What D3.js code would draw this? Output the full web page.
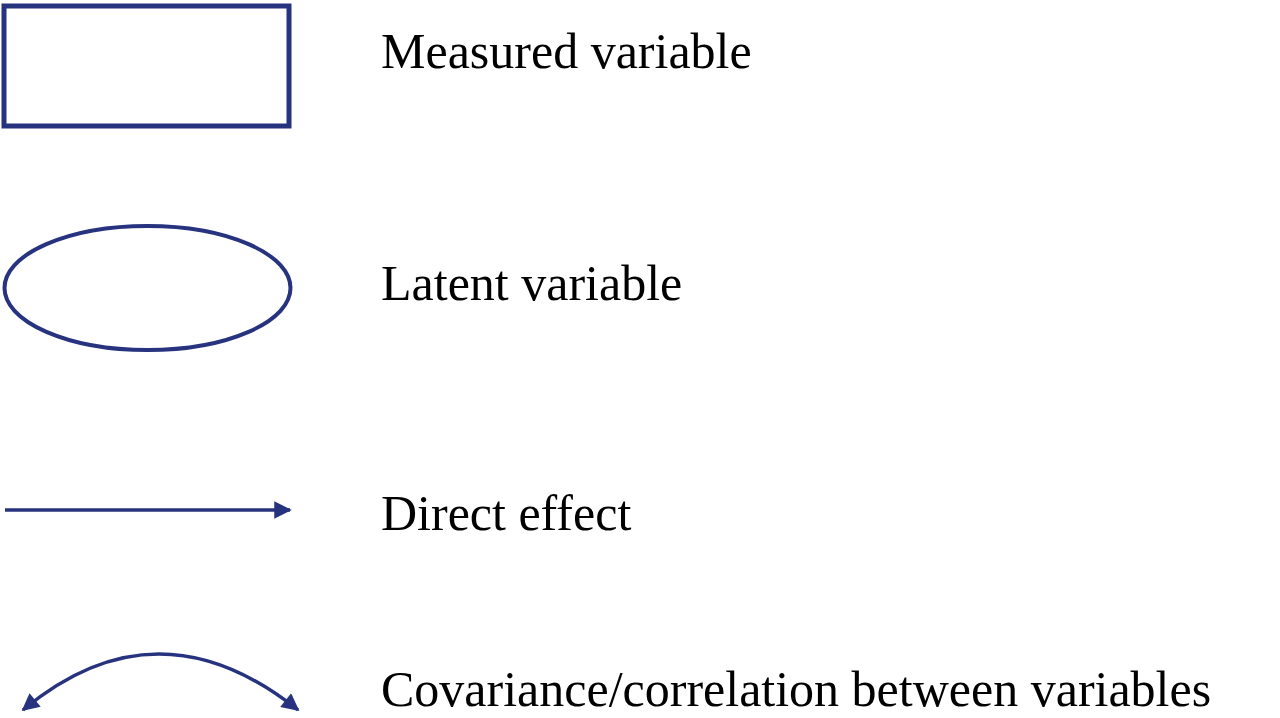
<!DOCTYPE html>
<html>
<head>
<meta charset="utf-8">
<script src="https://cdn.jsdelivr.net/npm/d3@7"></script>
<style>
  body { margin: 0; background: #fff; }
</style>
</head>
<body>
<svg id="chart" width="1280" height="718"></svg>
<script>
// legend entries, top to bottom
const symbols = ["rect", "ellipse", "arrow", "curve"];
const labels = [
  "Measured variable",
  "Latent variable",
  "Direct effect",
  "Covariance/correlation between variables"
];
// text baselines per row
const baselines = [68, 300, 530, 706];

const color = "#27337f";
const svg = d3.select("#chart");

const x = d3.scaleLinear().domain([0, 1]).range([5, 290]);
const mid = (x(0) + x(1)) / 2;

svg.append("defs").append("marker")
  .attr("id", "head")
  .attr("viewBox", "0 0 10 10")
  .attr("refX", 9).attr("refY", 5)
  .attr("markerWidth", 6).attr("markerHeight", 5)
  .attr("orient", "auto-start-reverse")
  .attr("markerUnits", "strokeWidth")
  .append("path").attr("d", "M0,0 L10,5 L0,10 Z").attr("fill", color);

const rows = svg.selectAll("g.row").data(symbols).enter().append("g").attr("class", "row");

rows.each(function(s, i) {
  const g = d3.select(this);
  if (s === "rect") {
    g.append("rect").attr("x", x(0) - 1).attr("y", 6)
      .attr("width", x(1) - x(0)).attr("height", 120)
      .attr("fill", "none").attr("stroke", color).attr("stroke-width", 5);
  } else if (s === "ellipse") {
    g.append("ellipse").attr("cx", mid).attr("cy", 288)
      .attr("rx", 143).attr("ry", 62)
      .attr("fill", "none").attr("stroke", color).attr("stroke-width", 4);
  } else if (s === "arrow") {
    g.append("line").attr("x1", x(0)).attr("x2", x(1))
      .attr("y1", 510).attr("y2", 510)
      .attr("stroke", color).attr("stroke-width", 3.5)
      .attr("marker-end", "url(#head)");
  } else {
    const p = d3.path();
    p.moveTo(x(0) + 18, 710);
    p.quadraticCurveTo(mid + 10, 598, x(1) + 8, 710);
    g.append("path").attr("d", p.toString())
      .attr("fill", "none").attr("stroke", color).attr("stroke-width", 3.5)
      .attr("marker-start", "url(#head)").attr("marker-end", "url(#head)");
  }
  g.append("text").attr("x", 381).attr("y", baselines[i])
    .attr("font-family", "'Liberation Serif', 'Times New Roman', serif")
    .attr("font-size", 50).attr("fill", "#000")
    .text(labels[i]);
});
</script>
</body>
</html>
